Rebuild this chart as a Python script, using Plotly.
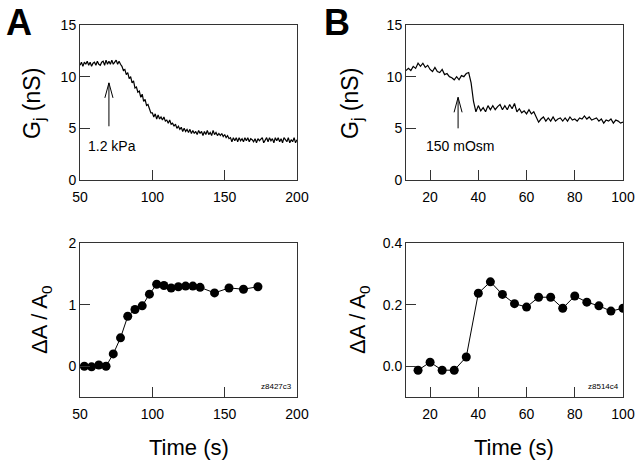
import plotly.graph_objects as go

# panel A, top: junctional conductance trace (1 s samples, 50..200 s)
time_a = list(range(50, 201))
gj_a = [
    11.1, 11.4, 11.0, 11.4, 11.2, 11.5, 11.1, 11.4, 11.0, 11.3,
    11.4, 11.1, 11.5, 11.2, 11.1, 11.4, 11.5, 11.1, 11.6, 11.2,
    11.5, 11.2, 11.6, 11.2, 11.4, 11.6, 11.2, 11.5, 11.2, 11.0,
    10.6, 10.7, 10.2, 10.4, 9.8, 10.0, 9.4, 9.6, 8.9, 9.0,
    8.5, 8.6, 8.0, 8.3, 7.6, 7.8, 7.2, 7.3, 6.9, 6.5,
    6.5, 6.1, 6.4, 5.9, 6.3, 5.9, 6.1, 5.8, 6.1, 5.7,
    5.8, 5.5, 5.8, 5.4, 5.5, 5.2, 5.4, 5.0, 5.2, 4.9,
    5.1, 4.7, 5.0, 4.7, 4.9, 4.6, 4.9, 4.5, 4.8, 4.5,
    4.7, 4.4, 4.8, 4.5, 4.7, 4.3, 4.7, 4.4, 4.8, 4.4,
    4.6, 4.3, 4.8, 4.4, 4.6, 4.3, 4.5, 4.3, 4.5, 4.2,
    4.4, 4.1, 4.3, 4.0, 4.1, 3.7, 4.1, 3.8, 4.1, 3.7,
    4.1, 3.8, 4.0, 3.7, 4.1, 3.8, 4.1, 3.7, 4.0, 3.9,
    3.7, 4.0, 3.6, 4.0, 3.8, 4.0, 4.1, 3.6, 3.9, 4.1,
    3.7, 4.1, 3.8, 4.0, 3.6, 4.1, 3.8, 4.1, 3.7, 4.0,
    3.6, 4.1, 3.9, 3.7, 4.1, 3.6, 3.9, 3.7, 4.1, 3.6,
    3.9,
]

# panel B, top: trace (1 s samples, 10..100 s)
time_b = list(range(10, 101))
gj_b = [
    10.6, 10.8, 10.6, 11.0, 10.8, 11.3, 11.0, 11.3, 10.9, 11.1,
    10.7, 10.5, 10.9, 10.5, 10.4, 10.7, 10.2, 10.3, 10.0, 9.9,
    9.7, 10.0, 9.7, 10.1, 10.0, 10.3, 10.4, 9.4, 7.6, 6.6,
    7.2, 6.7, 7.0, 6.6, 7.2, 6.8, 7.2, 6.8, 7.1, 7.3,
    6.8, 7.2, 6.8, 7.3, 6.9, 7.4, 6.6, 6.9, 6.5, 6.7,
    6.4, 6.8, 6.4, 6.6, 6.1, 5.6, 5.9, 6.1, 5.7, 6.0,
    5.7, 6.1, 5.7, 5.9, 6.0, 5.7, 6.0, 5.7, 6.1, 5.8,
    5.9, 5.7, 6.0, 5.9, 6.2, 5.9, 6.1, 5.8, 5.9, 6.0,
    5.7, 5.9, 5.5, 5.8, 5.7, 5.9, 5.5, 5.8, 5.7, 5.5,
    5.6,
]

# bottom panels: dA / A0
t_dA_a = [53, 58, 63, 68, 73, 78, 83, 88, 93, 98, 103, 108, 113, 118, 123,
          128, 133, 143, 153, 163, 173]
dA_a = [0.0, -0.01, 0.02, 0.0, 0.2, 0.46, 0.81, 0.92, 0.98, 1.17, 1.33, 1.31,
        1.27, 1.29, 1.30, 1.30, 1.28, 1.19, 1.27, 1.25, 1.29]

t_dA_b = [15, 20, 25, 30, 35, 40, 45, 50, 55, 60, 65, 70, 75, 80, 85, 90, 95, 100]
dA_b = [-0.013, 0.013, -0.013, -0.013, 0.03, 0.237, 0.274, 0.233, 0.203,
        0.192, 0.224, 0.224, 0.188, 0.228, 0.208, 0.196, 0.179, 0.188]

# stimulus arrows: (x, tail y, tip y, head half-width, head length)
arrow_a = (70, 5.2, 9.4, 2.8, 1.45)
arrow_b = (31.6, 5.0, 8.0, 1.66, 1.45)

W, H = 640, 463
FONT = "Liberation Sans, Arial, sans-serif"


def px_x(p):
    return p / W


def px_y(p):
    return 1 - p / H


fig = go.Figure()

line = dict(color="black", width=1.2)
fig.add_trace(go.Scatter(x=time_a, y=gj_a, mode="lines", line=line,
                         xaxis="x", yaxis="y"))
fig.add_trace(go.Scatter(x=time_b, y=gj_b, mode="lines", line=line,
                         xaxis="x2", yaxis="y2"))
mk = dict(color="black", size=9)
fig.add_trace(go.Scatter(x=t_dA_a, y=dA_a, mode="lines+markers",
                         line=dict(color="black", width=1),
                         marker=mk, xaxis="x3", yaxis="y3"))
fig.add_trace(go.Scatter(x=t_dA_b, y=dA_b, mode="lines+markers",
                         line=dict(color="black", width=1),
                         marker=mk, xaxis="x4", yaxis="y4"))

left_a, right_a = 80, 297
left_b, right_b = 406, 623
top_1, bot_1 = 25, 180
top_2, bot_2 = 243, 397

tick_font = dict(family=FONT, size=14, color="black")


def xax(l, r, rng, dtick, anchor):
    return dict(domain=[px_x(l), px_x(r)], range=rng, dtick=dtick, tick0=0,
                anchor=anchor, showline=True, mirror=True, linecolor="#333",
                linewidth=1, ticks="inside", ticklen=10, tickcolor="#333",
                showgrid=False, zeroline=False, tickfont=tick_font,
                ticklabelstandoff=4, automargin=False)


def yax(t, b, rng, tickvals, anchor, fmt=None):
    d = dict(domain=[px_y(b), px_y(t)], range=rng, tickvals=tickvals,
             anchor=anchor, showline=True, mirror=True, linecolor="#333",
             linewidth=1, ticks="inside", ticklen=10, tickcolor="#333",
             showgrid=False, zeroline=False, tickfont=tick_font,
             automargin=False)
    if fmt:
        d["tickformat"] = fmt
    return d


fig.update_layout(
    template="none",
    width=W, height=H, margin=dict(l=0, r=0, t=0, b=0),
    paper_bgcolor="white", plot_bgcolor="white", showlegend=False,
    xaxis=xax(left_a, right_a, [50, 200], 50, "y"),
    yaxis=yax(top_1, bot_1, [0, 15], [0, 5, 10, 15], "x"),
    xaxis2=xax(left_b, right_b, [10, 100], 20, "y2"),
    yaxis2=yax(top_1, bot_1, [0, 15], [0, 5, 10, 15], "x2"),
    xaxis3=xax(left_a, right_a, [50, 200], 50, "y3"),
    yaxis3=yax(top_2, bot_2, [-0.5, 2], [0, 1, 2], "x3"),
    xaxis4=xax(left_b, right_b, [10, 100], 20, "y4"),
    yaxis4=yax(top_2, bot_2, [-0.1, 0.4], [0, 0.2, 0.4], "x4", ".1f"),
)

# arrows as open-headed lines
for (x, y0, y1, hw, hl), xr, yr in [(arrow_a, "x", "y"), (arrow_b, "x2", "y2")]:
    fig.add_shape(type="line", x0=x, x1=x, y0=y0, y1=y1, xref=xr, yref=yr,
                  line=dict(color="black", width=1))
    fig.add_shape(type="path", xref=xr, yref=yr,
                  path=f"M {x - hw},{y1 - hl} L {x},{y1} L {x + hw},{y1 - hl}",
                  line=dict(color="black", width=1))

ann = []


def text(s, x, y, size, bold=False, angle=0, xanchor="center", yanchor="middle",
         xref="paper", yref="paper"):
    ann.append(dict(text=f"<b>{s}</b>" if bold else s, x=x, y=y, xref=xref,
                    yref=yref, showarrow=False, textangle=angle,
                    xanchor=xanchor, yanchor=yanchor,
                    font=dict(family=FONT, size=size, color="black")))


text("A", px_x(4), px_y(22), 36, bold=True, xanchor="left")
text("B", px_x(322), px_y(22), 36, bold=True, xanchor="left")
text("G<sub>j</sub> (nS)", px_x(33), px_y(104), 23, angle=-90)
text("G<sub>j</sub> (nS)", px_x(351), px_y(104), 23, angle=-90)
text("ΔA / A<sub>0</sub>", px_x(41), px_y(320), 22, angle=-90)
text("ΔA / A<sub>0</sub>", px_x(359), px_y(320), 22, angle=-90)
text("Time (s)", px_x(189), px_y(447), 22)
text("Time (s)", px_x(514), px_y(447), 22)
text("1.2 kPa", 72, 3.3, 14, xref="x", yref="y")
text("150 mOsm", 32.3, 3.3, 14, xref="x2", yref="y2")
text("z8427c3", px_x(294), px_y(386), 8, xanchor="right")
text("z8514c4", px_x(621), px_y(386), 8, xanchor="right")
fig.update_layout(annotations=ann)

fig.write_html("out.html", config={"displayModeBar": False},
               post_script="document.body.style.margin='0';")
